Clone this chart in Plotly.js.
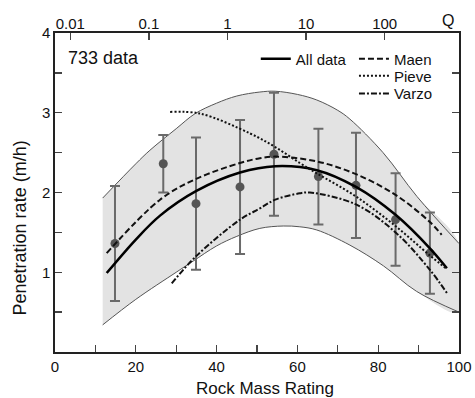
<!DOCTYPE html>
<html>
<head>
<meta charset="utf-8">
<script src="https://cdn.plot.ly/plotly-3.0.1.min.js"></script>
<style>html,body{margin:0;padding:0;background:#fff}#chart{width:475px;height:398px}</style>
</head>
<body>
<div id="chart"></div>
<script>
// Binned data (RMR bin centre, mean penetration rate, std)
var binRMR  = [14.85, 26.8, 34.9, 45.8, 54.2, 65.2, 74.5, 84.3, 92.8];
var binRate = [1.36, 2.36, 1.86, 2.07, 2.48, 2.20, 2.09, 1.66, 1.24];
var binStd  = [0.72, 0.36, 0.83, 0.84, 0.77, 0.60, 0.66, 0.58, 0.51];

// Envelope of the data
var upperX = [11.8, 20, 23.5, 30, 34.7, 40, 45, 50.7, 54.5, 60, 64.8, 70, 73, 81.2, 89.6, 100];
var upperY = [1.93, 2.36, 2.53, 2.80, 2.99, 3.12, 3.21, 3.26, 3.27, 3.23, 3.16, 3.03, 2.92, 2.50, 1.95, 1.36];
var lowerX = [11.8, 20, 30, 34.2, 40, 45, 50.7, 56.5, 60.6, 64.8, 73, 81.3, 89.5, 100];
var lowerY = [0.34, 0.66, 1.00, 1.14, 1.33, 1.45, 1.55, 1.58, 1.57, 1.53, 1.34, 1.08, 0.76, 0.50];

// Fitted curves
var allX  = [12.8, 20, 26, 35, 45.8, 54.5, 64.8, 74.5, 84.3, 92.8, 97];
var allY  = [0.99, 1.41, 1.71, 2.02, 2.25, 2.33, 2.28, 2.07, 1.72, 1.30, 1.05];
var maenX = [12.8, 26, 34.9, 45.8, 50.7, 54.5, 64.8, 74.5, 84.3, 92.8, 95.7];
var maenY = [1.24, 1.91, 2.17, 2.37, 2.43, 2.45, 2.39, 2.23, 1.97, 1.63, 1.47];
var pievX = [28.5, 35.9, 48.3, 54.5, 60.6, 64.8, 74.5, 84.5, 92.8, 97];
var pievY = [3.01, 2.99, 2.74, 2.57, 2.37, 2.24, 1.95, 1.57, 1.21, 1.04];
var varzX = [28.9, 34.9, 45.8, 50.7, 54.5, 60.6, 63.1, 74.5, 84.5, 92.8, 97];
var varzY = [0.86, 1.20, 1.66, 1.80, 1.91, 1.99, 2.00, 1.85, 1.49, 1.03, 0.74];

// Top axis (Q) ticks
var qTicks = [0.01, 0.1, 1, 10, 100];
var qLabels = ['0.01', '0.1', '1', '10', '100'];
var qA = 19.45, qB = 42.7;

var FONT = 'Liberation Sans, Arial, Helvetica, sans-serif';

var bandX = upperX.concat(lowerX.slice().reverse());
var bandY = upperY.concat(lowerY.slice().reverse());

var traces = [
  {x: bandX, y: bandY, type: 'scatter', mode: 'lines', fill: 'toself',
   fillcolor: '#e3e3e3', line: {width: 0, shape: 'spline'}, hoverinfo: 'skip', showlegend: false},
  {x: upperX, y: upperY, type: 'scatter', mode: 'lines',
   line: {color: '#555', width: 1, shape: 'spline'}, showlegend: false},
  {x: lowerX, y: lowerY, type: 'scatter', mode: 'lines',
   line: {color: '#555', width: 1, shape: 'spline'}, showlegend: false},
  {x: binRMR, y: binRate, type: 'scatter', mode: 'markers',
   marker: {color: '#555', size: 9},
   error_y: {type: 'data', array: binStd, visible: true, color: '#6a6a6a', thickness: 2, width: 5},
   showlegend: false},
  {x: allX, y: allY, type: 'scatter', mode: 'lines', name: 'All data',
   line: {color: '#000', width: 2.5, shape: 'spline'}, legend: 'legend'},
  {x: maenX, y: maenY, type: 'scatter', mode: 'lines', name: 'Maen',
   line: {color: '#111', width: 2, dash: '6px,3px', shape: 'spline'}, legend: 'legend2'},
  {x: pievX, y: pievY, type: 'scatter', mode: 'lines', name: 'Pieve',
   line: {color: '#111', width: 2, dash: '2px,2px', shape: 'spline'}, legend: 'legend3'},
  {x: varzX, y: varzY, type: 'scatter', mode: 'lines', name: 'Varzo',
   line: {color: '#111', width: 2, dash: '6px,2px,2px,2px', shape: 'spline'}, legend: 'legend4'},
  // helper so the top Q axis is drawn
  {x: [1], y: [null], xaxis: 'x2', type: 'scatter', mode: 'markers', showlegend: false, hoverinfo: 'skip'}
];

var legendFont = {family: FONT, size: 15, color: '#111'};
function leg(x, y) {
  return {x: x, y: y, xanchor: 'left', yanchor: 'top', bgcolor: 'rgba(0,0,0,0)',
          font: legendFont, itemwidth: 30, tracegroupgap: 0, borderwidth: 0};
}
var layout = {
  width: 475, height: 398,
  margin: {l: 55, r: 16, t: 33, b: 46},
  paper_bgcolor: '#fff', plot_bgcolor: '#fff',
  font: {family: FONT, size: 15, color: '#111'},
  xaxis: {
    range: [0, 100], dtick: 20, tick0: 0,
    ticks: 'inside', ticklen: 7, tickwidth: 1.3, tickcolor: '#444',
    minor: {dtick: 10, ticks: 'inside', ticklen: 7, tickwidth: 1.3, tickcolor: '#444'},
    showline: true, linecolor: '#222', linewidth: 1.6, mirror: true,
    showgrid: false, zeroline: false, tickfont: {size: 15}
  },
  xaxis2: {
    overlaying: 'x', side: 'top', anchor: 'y', type: 'log',
    range: [(0 - qB) / qA, (100 - qB) / qA],
    tickvals: qTicks, ticktext: qLabels,
    ticks: 'inside', ticklen: 7, tickwidth: 1.3, tickcolor: '#444',
    showline: false, showgrid: false, zeroline: false, tickfont: {size: 15}
  },
  yaxis: {
    range: [0, 4], tickvals: [1, 2, 3, 4],
    ticks: 'inside', ticklen: 7, tickwidth: 1.3, tickcolor: '#444',
    minor: {dtick: 0.5, ticks: 'inside', ticklen: 7, tickwidth: 1.3, tickcolor: '#444'},
    showline: true, linecolor: '#222', linewidth: 1.6, mirror: 'ticks',
    showgrid: false, zeroline: false, tickfont: {size: 15}
  },
  legend: leg(0.497, 0.970),
  legend2: leg(0.74, 0.970),
  legend3: leg(0.74, 0.917),
  legend4: leg(0.74, 0.861),
  annotations: [
    {text: '733 data', xref: 'paper', yref: 'paper', x: 0.027, y: 0.922, xanchor: 'left', yanchor: 'middle',
     showarrow: false, font: {family: FONT, size: 18, color: '#111'}},
    {text: 'Q', xref: 'paper', yref: 'paper', x: 0.973, y: 1.04, xanchor: 'center', yanchor: 'middle',
     showarrow: false, font: {family: FONT, size: 16, color: '#111'}},
    {text: 'Rock Mass Rating', xref: 'paper', yref: 'paper', x: 0.52, y: -0.113, xanchor: 'center', yanchor: 'middle',
     showarrow: false, font: {family: FONT, size: 17, color: '#111'}},
    {text: 'Penetration rate (m/h)', xref: 'paper', yref: 'paper', x: -0.087, y: 0.39, xanchor: 'center', yanchor: 'middle',
     textangle: -90, showarrow: false, font: {family: FONT, size: 18, color: '#111'}}
  ]
};

Plotly.newPlot('chart', traces, layout, {staticPlot: true, displayModeBar: false});
</script>
</body>
</html>
